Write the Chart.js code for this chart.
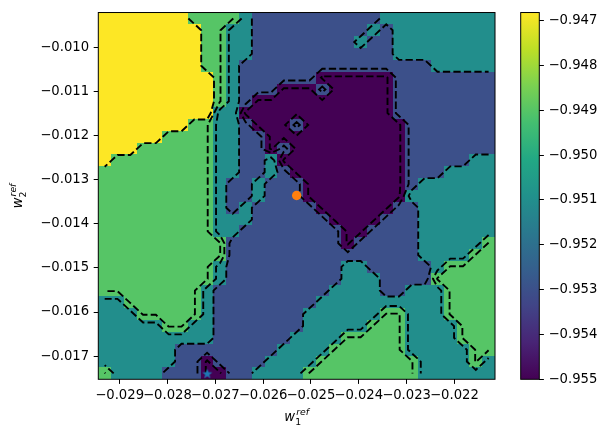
<!DOCTYPE html>
<html>
<head>
<meta charset="utf-8">
<script src="https://cdn.jsdelivr.net/npm/chart.js@4.4.1/dist/chart.umd.min.js"></script>
<style>
  body { margin: 0; background: #fff; overflow: hidden; }
  #wrap { position: relative; width: 609px; height: 440px; }
  canvas { position: absolute; top: 0; }
</style>
</head>
<body>
<div id="wrap">
  <canvas id="main" width="609" height="440" style="left:0"></canvas>
  <canvas id="cbar" width="109" height="440" style="left:500px"></canvas>
</div>
<script>
// value of each colour class in the grid
const classValues = { P: -0.955, B: -0.953, T: -0.951, G: -0.949, Y: -0.94682 };

// 31 x 31 grid, top row first
const gridRows = [
  "YYYYYYYGGGGTBBBBBBBBBBTTTTTTTTT",
  "YYYYYYYYGGTTBBBBBBBBBTBTTTTTTTT",
  "YYYYYYYYGGTTBBBBBBBBTBBTTTTTTTT",
  "YYYYYYYYGGTTBBBBBBBBBBBTTTTTTTT",
  "YYYYYYYYGGTBBBBBBBBBBBBBBBTTTTT",
  "YYYYYYYYYGTBBBBBBPPPPPPBBBBBBBB",
  "YYYYYYYYYGTBBBPPPBPPPPPBBBBBBBB",
  "YYYYYYYYYGTBPPPPPPPPPPPBBBBBBBB",
  "YYYYYYYYYTTPPPPPPPPPPPPBBBBBBBB",
  "YYYYYYYGGTTBPPPBPPPPPPPPBBBBBBB",
  "YYYYYGGGGTTBBPPPPPPPPPPPBBBBBBB",
  "YYYGGGGGGTTBBPBPPPPPPPPPBBBBBBB",
  "YGGGGGGGGTTBBTPPPPPPPPPPBBBBBTT",
  "GGGGGGGGGTTBBTBPPPPPPPPPBBBTTTT",
  "GGGGGGGGGTBBTBBBPPPPPPPPBTTTTTT",
  "GGGGGGGGGTBBTBBBPPPPPPPPTTTTTTT",
  "GGGGGGGGGTBTBBBBBPPPPPPBBTTTTTT",
  "GGGGGGGGGTTTBBBBBBPPPPBBBTTTTTT",
  "GGGGGGGGGTTBBBBBBBBPPBBBBTTTTTT",
  "GGGGGGGGGGBBBBBBBBBPBBBBBTTTTTG",
  "GGGGGGGGGGBBBBBBBBBBBBBBBTTTTGG",
  "GGGGGGGGGTBBBBBBBBBTTBBBBBTGGGG",
  "GGGGGGGGGTBBBBBBBBBTTTBBBBGGGGG",
  "GGGGGGGGTBBBBBBBBBTTTTBBTTTGGGG",
  "TTGGGGGGTBBBBBBBBTTTTTTTTTTGGGG",
  "TTTGGGGGTBBBBBBBTTTTTTGGTTTGGGG",
  "TTTTTGGTTBBBBBBBTTTTTGGGTTTTGGG",
  "TTTTTTTTTBBBBBBTTTTGGGGGTTTTGGG",
  "TTTTTTBBBBBBBBTTTTGGGGGGTTTTTGG",
  "TTTTTTBBPBBBBTTTTGGGGGGGGTTTTGT",
  "GTTTTBBBPPBBTTTTGGGGGGGGGTTTTTT"
];

// grid centres (first / last column and row)
const xFirst = -0.029312, xLast = -0.021285;
const yTop = -0.009347, yBottom = -0.01739;

const xTicks = [-0.029, -0.028, -0.027, -0.026, -0.025, -0.024, -0.023, -0.022];
const yTicks = [-0.017, -0.016, -0.015, -0.014, -0.013, -0.012, -0.011, -0.010];
const cbTicks = [-0.955, -0.954, -0.953, -0.952, -0.951, -0.950, -0.949, -0.948, -0.947];
const cbMin = -0.955, cbMax = -0.94682;

// dashed contour levels
const contourLevels = [-0.948, -0.9491, -0.9504, -0.952, -0.9535, -0.9548];

const bestPoint = [{ x: -0.025298, y: -0.01336 }];
const starPoint = [{ x: -0.027167, y: -0.017396 }];

const viridisStops = ['#440154', '#482475', '#414487', '#355f8d', '#2a788e', '#21918c',
                      '#22a884', '#44bf70', '#7ad151', '#bddf26', '#fde725'];

function hexRgb(h) {
  return [parseInt(h.substr(1, 2), 16), parseInt(h.substr(3, 2), 16), parseInt(h.substr(5, 2), 16)];
}
function viridis(t) {
  t = Math.max(0, Math.min(1, t));
  const p = t * 10, k = Math.min(9, Math.floor(p)), f = p - k;
  const a = hexRgb(viridisStops[k]), b = hexRgb(viridisStops[k + 1]);
  const c = a.map((v, n) => Math.round(v + (b[n] - v) * f));
  return 'rgb(' + c.join(',') + ')';
}

const nx = gridRows[0].length, ny = gridRows.length;
const dxStep = (xLast - xFirst) / (nx - 1), dyStep = (yTop - yBottom) / (ny - 1);
const xc = [], yc = [];
for (let i = 0; i < nx; i++) xc.push(xFirst + i * dxStep);
for (let j = 0; j < ny; j++) yc.push(yTop - j * dyStep);
const vals = gridRows.map(r => r.split('').map(ch => classValues[ch]));

const xMin = xFirst - dxStep / 2, xMax = xLast + dxStep / 2;
const yMin = yBottom - dyStep / 2, yMax = yTop + dyStep / 2;

// marching squares, joined into polylines
function contourChains(level) {
  const pts = {}, adj = {}, segs = [];
  function pt(key, i1, j1, i2, j2) {
    if (!pts[key]) {
      const v1 = vals[j1][i1], v2 = vals[j2][i2];
      const t = (level - v1) / (v2 - v1);
      pts[key] = [xc[i1] + t * (xc[i2] - xc[i1]), yc[j1] + t * (yc[j2] - yc[j1])];
    }
  }
  for (let j = 0; j < ny - 1; j++) {
    for (let i = 0; i < nx - 1; i++) {
      const a = vals[j][i], b = vals[j][i + 1], c = vals[j + 1][i + 1], d = vals[j + 1][i];
      const kT = 'h' + i + '_' + j, kR = 'v' + (i + 1) + '_' + j;
      const kB = 'h' + i + '_' + (j + 1), kL = 'v' + i + '_' + j;
      const list = [];
      if ((a > level) !== (b > level)) { pt(kT, i, j, i + 1, j); list.push(kT); }
      if ((b > level) !== (c > level)) { pt(kR, i + 1, j, i + 1, j + 1); list.push(kR); }
      if ((d > level) !== (c > level)) { pt(kB, i, j + 1, i + 1, j + 1); list.push(kB); }
      if ((a > level) !== (d > level)) { pt(kL, i, j, i, j + 1); list.push(kL); }
      if (list.length === 2) segs.push(list);
      else if (list.length === 4) {
        const centre = (a + b + c + d) / 4 >= level - 1e-9;
        if ((a > level) === centre) { segs.push([kT, kR]); segs.push([kB, kL]); }
        else { segs.push([kL, kT]); segs.push([kR, kB]); }
      }
    }
  }
  segs.forEach((s, n) => s.forEach(k => (adj[k] = adj[k] || []).push(n)));
  const used = segs.map(() => false);
  const keys = Object.keys(adj);
  const order = keys.filter(k => adj[k].length === 1).concat(keys);
  const chains = [];
  for (const start of order) {
    for (const s0 of adj[start]) {
      if (used[s0]) continue;
      const chain = [start];
      let cur = start, si = s0;
      while (si !== undefined && !used[si]) {
        used[si] = true;
        const s = segs[si];
        cur = s[0] === cur ? s[1] : s[0];
        chain.push(cur);
        si = adj[cur].find(n => !used[n]);
      }
      chains.push({ closed: chain[0] === chain[chain.length - 1], pts: chain.map(k => pts[k]) });
    }
  }
  return chains;
}

const gridPlugin = {
  id: 'gridPlugin',
  beforeDatasetsDraw(chart) {
    const { ctx, chartArea: a } = chart;
    const x = chart.scales.x, y = chart.scales.y;
    ctx.save();
    ctx.beginPath();
    ctx.rect(a.left, a.top, a.width, a.height);
    ctx.clip();
    for (let j = 0; j < ny; j++) {
      for (let i = 0; i < nx; i++) {
        const l = Math.round(x.getPixelForValue(xc[i] - dxStep / 2));
        const r = Math.round(x.getPixelForValue(xc[i] + dxStep / 2));
        const t = Math.round(y.getPixelForValue(yc[j] + dyStep / 2));
        const b = Math.round(y.getPixelForValue(yc[j] - dyStep / 2));
        ctx.fillStyle = viridis((vals[j][i] - cbMin) / (cbMax - cbMin));
        ctx.fillRect(l, t, r - l, b - t);
      }
    }
    ctx.strokeStyle = '#000';
    ctx.lineWidth = 1.9;
    ctx.setLineDash([7.3, 3.2]);
    ctx.lineCap = 'butt';
    contourLevels.forEach(level => {
      contourChains(level).forEach(ch => {
        ctx.beginPath();
        ch.pts.forEach((p, n) => {
          const px = x.getPixelForValue(p[0]), py = y.getPixelForValue(p[1]);
          if (n === 0) ctx.moveTo(px, py); else ctx.lineTo(px, py);
        });
        if (ch.closed) ctx.closePath();
        ctx.stroke();
      });
    });
    ctx.restore();
  },
  afterDatasetsDraw(chart) {
    const { ctx, chartArea: a } = chart;
    ctx.save();
    ctx.strokeStyle = '#000';
    ctx.lineWidth = 1;
    ctx.strokeRect(a.left, a.top, a.width, a.height);
    ctx.restore();
  },
  afterDraw(chart) {
    const { ctx, chartArea: a } = chart;
    drawMathLabel(ctx, (a.left + a.right) / 2, 421, '1', 0);
    drawMathLabel(ctx, (a.top + a.bottom) / 2, 22, '2', 1);
  }
};

// w with stacked subscript and italic "ref" superscript
function drawMathLabel(ctx, centre, base, sub, rotated) {
  ctx.save();
  if (rotated) {
    ctx.translate(base, centre);
    ctx.rotate(-Math.PI / 2);
    ctx.translate(-centre, -base);
  }
  const big = 'italic 13.2px "DejaVu Sans"', small = 'italic 9.3px "DejaVu Sans"', smallUp = '9.3px "DejaVu Sans"';
  ctx.fillStyle = '#000';
  ctx.textBaseline = 'alphabetic';
  ctx.textAlign = 'left';
  ctx.font = big; const ww = ctx.measureText('w').width;
  ctx.font = small; const rw = ctx.measureText('ref').width;
  ctx.font = smallUp; const sw = ctx.measureText(sub).width;
  const total = ww + Math.max(rw, sw) + 1;
  const x0 = centre - total / 2;
  ctx.font = big; ctx.fillText('w', x0, base);
  ctx.font = small; ctx.fillText('ref', x0 + ww + 1, base - 6.5);
  ctx.font = smallUp; ctx.fillText(sub, x0 + ww, base + 3.5);
  ctx.restore();
}

function tickLabel(v) {
  return (v < 0 ? '\u2212' : '') + Math.abs(v).toFixed(3);
}

const starImg = document.createElement('canvas');
starImg.width = 12; starImg.height = 12;
(function () {
  const c = starImg.getContext('2d');
  c.fillStyle = '#1f77b4';
  c.beginPath();
  for (let k = 0; k < 10; k++) {
    const r = k % 2 === 0 ? 5.4 : 2.2;
    const ang = -Math.PI / 2 + k * Math.PI / 5;
    const px = 6 + r * Math.cos(ang), py = 6.4 + r * Math.sin(ang);
    if (k === 0) c.moveTo(px, py); else c.lineTo(px, py);
  }
  c.closePath();
  c.fill();
})();

const tickFont = { family: 'DejaVu Sans', size: 13.2 };

new Chart(document.getElementById('main'), {
  type: 'scatter',
  data: {
    datasets: [
      { data: bestPoint, pointStyle: 'circle', pointRadius: 4.7, backgroundColor: '#ff7f0e', borderWidth: 0 },
      { data: starPoint, pointStyle: starImg, pointRadius: 6 }
    ]
  },
  options: {
    responsive: false,
    animation: false,
    devicePixelRatio: 1,
    layout: { padding: { left: 0, right: 114, top: 9.3, bottom: 0 } },
    plugins: { legend: { display: false }, tooltip: { enabled: false } },
    scales: {
      x: {
        type: 'linear', min: xMin, max: xMax,
        afterBuildTicks: ax => { ax.ticks = xTicks.map(v => ({ value: v })); },
        afterFit: ax => { ax.height = 60.7; },
        border: { display: false },
        grid: { display: true, drawOnChartArea: false, drawTicks: true, tickLength: 4.6, color: '#000', lineWidth: 1 },
        ticks: { color: '#000', font: tickFont, padding: 3.5, maxRotation: 0, autoSkip: false, callback: tickLabel }
      },
      y: {
        type: 'linear', min: yMin, max: yMax,
        afterBuildTicks: ax => { ax.ticks = yTicks.map(v => ({ value: v })); },
        afterFit: ax => { ax.width = 98.3; },
        border: { display: false },
        grid: { display: true, drawOnChartArea: false, drawTicks: true, tickLength: 4.6, color: '#000', lineWidth: 1 },
        ticks: { color: '#000', font: tickFont, padding: 4.6, autoSkip: false, callback: tickLabel }
      }
    }
  },
  plugins: [gridPlugin]
});

const outlinePlugin = {
  id: 'outline',
  afterDatasetsDraw(chart) {
    const { ctx, chartArea: a } = chart;
    ctx.save();
    ctx.strokeStyle = '#000';
    ctx.lineWidth = 1;
    ctx.strokeRect(a.left, a.top, a.width, a.height);
    ctx.restore();
  }
};

new Chart(document.getElementById('cbar'), {
  type: 'bar',
  data: {
    labels: ['colour'],
    datasets: [{
      data: [[cbMin, cbMax]],
      borderWidth: 0,
      barPercentage: 1,
      categoryPercentage: 1,
      backgroundColor: c => {
        const area = c.chart.chartArea;
        if (!area) return '#21918c';
        const g = c.chart.ctx.createLinearGradient(0, area.bottom, 0, area.top);
        viridisStops.forEach((col, n) => g.addColorStop(n / 10, col));
        return g;
      }
    }]
  },
  options: {
    responsive: false,
    animation: false,
    devicePixelRatio: 1,
    layout: { padding: { left: 20.7, right: 0, top: 9.3, bottom: 60.7 } },
    plugins: { legend: { display: false }, tooltip: { enabled: false } },
    scales: {
      x: { display: false },
      y: {
        position: 'right', min: cbMin, max: cbMax,
        afterBuildTicks: ax => { ax.ticks = cbTicks.map(v => ({ value: v })); },
        afterFit: ax => { ax.width = 69.7; },
        border: { display: false },
        grid: { display: true, drawOnChartArea: false, drawTicks: true, tickLength: 4.6, color: '#000', lineWidth: 1 },
        ticks: { color: '#000', font: tickFont, padding: 4.6, autoSkip: false, callback: tickLabel }
      }
    }
  },
  plugins: [outlinePlugin]
});
</script>
</body>
</html>
